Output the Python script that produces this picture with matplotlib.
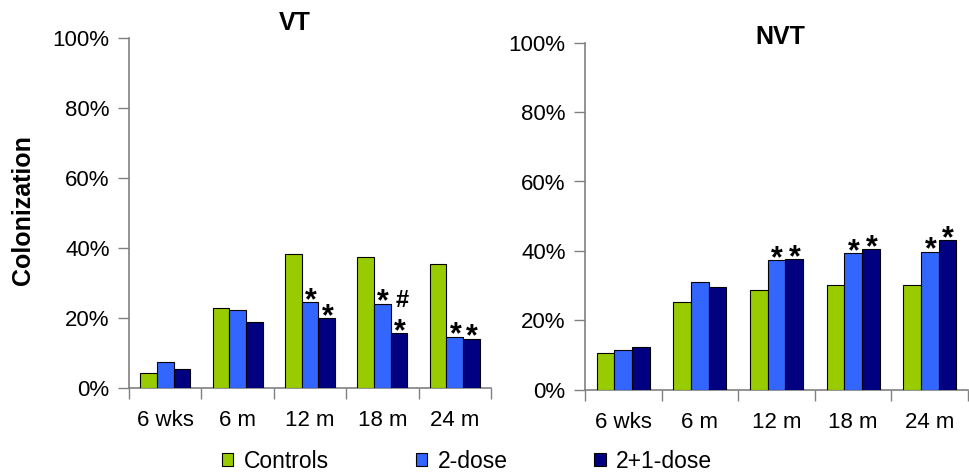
import matplotlib
matplotlib.use("Agg")
import matplotlib.pyplot as plt
import numpy as np

plt.rcParams['font.family'] = ['Liberation Sans', 'DejaVu Sans']

categories = ["6 wks", "6 m", "12 m", "18 m", "24 m"]
series = ["Controls", "2-dose", "2+1-dose"]
colors = ["#99CC00", "#3366FF", "#000080"]

vt_controls = [4.4, 23.0, 38.2, 37.5, 35.5]
vt_two = [7.4, 22.4, 24.6, 24.1, 14.7]
vt_three = [5.4, 18.9, 19.9, 15.6, 14.1]

nvt_controls = [10.5, 25.3, 28.7, 30.2, 30.2]
nvt_two = [11.4, 30.9, 37.3, 39.3, 39.8]
nvt_three = [12.2, 29.5, 37.6, 40.5, 43.1]

# significance markers (per series index, per category)
vt_marks = {1: ["", "", "*", "*", "*"], 2: ["", "", "*", "*", "*"]}
vt_hash = {2: ["", "", "", "#", ""]}
nvt_marks = {1: ["", "", "*", "*", "*"], 2: ["", "", "*", "*", "*"]}

yticks = [0, 20, 40, 60, 80, 100]
ytick_labels = ["0%", "20%", "40%", "60%", "80%", "100%"]

W, H = 969, 473
fig = plt.figure(figsize=(W / 100, H / 100), dpi=100)

ax1 = fig.add_axes([129 / W, 1 - 388 / H, (491 - 129) / W, (388 - 38) / H])
ax2 = fig.add_axes([585 / W, 1 - 389.7 / H, (968 - 585) / W, (389.7 - 42.7) / H])

bw = 0.23
x = np.arange(len(categories))


def draw(ax, data, marks, hashes, title, title_xy):
    handles = []
    for i, (vals, c) in enumerate(zip(data, colors)):
        h = ax.bar(x + (i - 1) * bw, vals, width=bw, color=c, edgecolor="black",
                   linewidth=0.8, label=series[i], zorder=3)
        handles.append(h)
    for si, lst in marks.items():
        for ci, m in enumerate(lst):
            if m:
                ax.annotate(m, (x[ci] + (si - 1) * bw, data[si][ci]), xytext=(0.5, -5),
                            textcoords="offset points", ha="center", va="baseline",
                            fontsize=22, fontweight="bold", zorder=4)
    for si, lst in hashes.items():
        for ci, m in enumerate(lst):
            if m:
                ax.annotate(m, (x[ci] + (si - 1) * bw, data[si][ci]), xytext=(2.5, 19),
                            textcoords="offset points", ha="center", va="baseline",
                            fontsize=17, fontweight="bold", zorder=4)
    ax.set_xlim(-0.5, len(categories) - 0.5)
    ax.set_ylim(0, 100)
    ax.set_yticks(yticks)
    ax.set_yticklabels(ytick_labels)
    ax.set_xticks(np.arange(len(categories) + 1) - 0.5)
    ax.set_xticklabels([])
    ax.set_xticks(x, minor=True)
    ax.set_xticklabels(categories, minor=True)
    ax.tick_params(axis="x", which="major", length=8, width=1, color="#808080", direction="out")
    ax.tick_params(axis="x", which="minor", length=0, pad=16, labelsize=16)
    ax.tick_params(axis="y", length=8, width=1, color="#808080", pad=6, labelsize=16)
    for s in ["top", "right"]:
        ax.spines[s].set_visible(False)
    for s in ["left", "bottom"]:
        ax.spines[s].set_color("#808080")
        ax.spines[s].set_linewidth(1.2)
    fig.text(title_xy[0] / W, 1 - title_xy[1] / H, title, ha="center", va="center",
             fontsize=18, fontweight="bold")
    return handles


handles = draw(ax1, [vt_controls, vt_two, vt_three], vt_marks, vt_hash, "VT", (295, 23))
draw(ax2, [nvt_controls, nvt_two, nvt_three], nvt_marks, {}, "NVT", (780, 37))

fig.text(23 / W, 1 - 210 / H, "Colonization", rotation=90, ha="center", va="center",
         fontsize=18, fontweight="bold")

fig.legend(handles, series, loc="center", bbox_to_anchor=(467 / W, 1 - 461 / H), ncol=3,
           frameon=False, fontsize=16.5, handlelength=0.5, handleheight=0.5,
           handletextpad=0.45, columnspacing=3.8, borderpad=0, borderaxespad=0)

fig.savefig("out.png", dpi=100)
